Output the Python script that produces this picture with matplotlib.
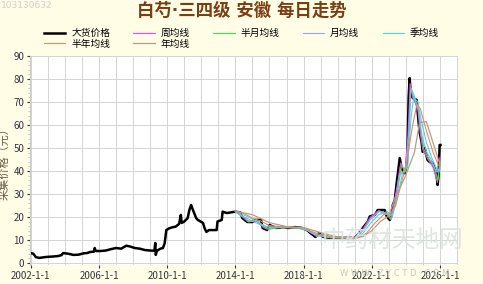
import matplotlib
matplotlib.use("Agg")
import matplotlib.pyplot as plt
import numpy as np

plt.rcParams['font.family'] = ['Noto Sans CJK SC', 'DejaVu Sans']

# 大货价格 (decimal year, price)
price_t = [2002.0, 2002.15, 2002.3, 2002.5, 2002.9, 2003.3, 2003.6, 2003.8, 2003.9, 2004.2,
           2004.5, 2004.8, 2005.1, 2005.3, 2005.5, 2005.7, 2005.75, 2005.8, 2006.1, 2006.4,
           2006.7, 2007.0, 2007.3, 2007.6, 2007.8, 2008.1, 2008.4, 2008.7, 2009.0, 2009.25,
           2009.3, 2009.33, 2009.4, 2009.6, 2009.75, 2009.85, 2009.95, 2010.1, 2010.3, 2010.5,
           2010.7, 2010.8, 2010.85, 2011.0, 2011.2, 2011.3, 2011.4, 2011.55, 2011.7, 2011.8,
           2012.1, 2012.2, 2012.3, 2012.45, 2012.9, 2012.95, 2013.2, 2013.25, 2013.5, 2014.0,
           2014.3, 2014.4, 2014.7, 2015.0, 2015.16, 2015.5, 2015.6, 2015.86, 2016.0, 2016.4,
           2016.8, 2017.1, 2017.5, 2017.9, 2018.2, 2018.4, 2018.7, 2018.9, 2019.13, 2019.54,
           2020.5, 2021.0, 2021.18, 2021.47, 2021.77, 2021.88, 2022.18, 2022.35, 2022.76, 2022.88,
           2023.05, 2023.17, 2023.23, 2023.35, 2023.46, 2023.64, 2023.75, 2023.85, 2023.93, 2024.05,
           2024.1, 2024.16, 2024.22, 2024.28, 2024.33, 2024.4, 2024.63, 2024.69, 2024.8, 2024.92,
           2024.98, 2025.1, 2025.27, 2025.39, 2025.57, 2025.68, 2025.8, 2025.86, 2025.92, 2025.98,
           2026.03]
price_v = [4.3, 4.0, 2.5, 2.2, 2.6, 2.8, 3.0, 3.4, 4.3, 4.0,
           3.5, 3.6, 4.2, 4.3, 4.8, 4.9, 6.5, 5.2, 5.2, 5.4,
           6.0, 6.5, 6.2, 7.5, 7.2, 6.5, 6.2, 5.6, 5.4, 5.3,
           8.7, 3.5, 5.3, 6.2, 6.5, 8.5, 14.3, 15.0, 15.5, 15.8,
           17.0, 20.9, 17.4, 18.0, 19.5, 23.0, 25.2, 22.3, 19.5, 18.7,
           17.4, 15.0, 13.5, 14.3, 14.3, 18.0, 18.7, 22.3, 21.7, 22.3,
           21.9, 19.6, 17.8, 17.8, 18.7, 18.7, 15.2, 14.3, 16.5, 15.2,
           15.6, 15.2, 15.6, 15.2, 14.3, 13.0, 11.3, 13.0, 11.4, 10.9,
           10.9, 10.9, 12.2, 15.2, 18.0, 20.2, 20.9, 23.0, 23.0, 20.2,
           18.7, 20.9, 25.2, 27.4, 34.8, 45.6, 41.3, 39.6, 39.0, 42.6,
           51.3, 71.7, 80.4, 74.3, 73.0, 71.7, 70.9, 65.7, 57.0, 52.6,
           48.3, 50.0, 44.8, 43.9, 43.5, 41.3, 38.3, 33.9, 38.3, 51.3,
           51.3]

# 周均线
week_t = [2014.0, 2014.45, 2014.75, 2015.2, 2015.65, 2015.9, 2016.5, 2017.2, 2017.9, 2018.45,
          2018.75, 2019.2, 2019.6, 2021.0, 2021.5, 2021.9, 2022.4, 2022.9, 2023.1, 2023.3,
          2023.5, 2023.7, 2023.95, 2024.12, 2024.25, 2024.4, 2024.7, 2024.85, 2025.0, 2025.3,
          2025.6, 2025.85, 2026.0]
week_v = [22.3, 19.8, 17.8, 18.6, 15.4, 14.6, 15.4, 15.3, 15.3, 13.2,
          11.5, 12.5, 10.9, 10.9, 15.0, 19.8, 22.8, 21.0, 18.9, 26.0,
          34.0, 43.5, 39.3, 55.0, 78.0, 72.0, 67.0, 56.0, 49.0, 45.0,
          41.5, 35.0, 46.0]

# 半月均线
half_month_t = [2014.0, 2014.5, 2014.8, 2015.25, 2015.7, 2016.0, 2016.6, 2017.3, 2018.0, 2018.5,
                2018.8, 2019.3, 2019.7, 2021.05, 2021.55, 2021.95, 2022.45, 2022.95, 2023.15, 2023.35,
                2023.55, 2023.75, 2024.0, 2024.15, 2024.28, 2024.45, 2024.72, 2024.88, 2025.05, 2025.35,
                2025.65, 2025.88, 2026.02]
half_month_v = [22.3, 19.9, 17.9, 18.5, 15.6, 14.8, 15.4, 15.3, 15.2, 13.3,
                11.7, 12.3, 10.9, 10.9, 14.7, 19.5, 22.6, 21.0, 19.1, 25.5,
                33.0, 42.5, 39.8, 52.0, 76.0, 72.0, 67.5, 57.0, 49.5, 45.3,
                41.8, 36.0, 44.0]

# 月均线
month_t = [2014.0, 2014.5, 2015.0, 2015.5, 2016.0, 2017.0, 2018.0, 2018.5, 2019.2, 2021.0,
           2021.5, 2021.9, 2022.4, 2022.9, 2023.2, 2023.4, 2023.6, 2024.0, 2024.2, 2024.3,
           2024.5, 2024.75, 2024.95, 2025.2, 2025.5, 2025.8, 2026.0]
month_v = [22.3, 20.0, 18.2, 16.5, 15.5, 15.5, 15.2, 12.8, 11.3, 10.9,
           14.3, 18.8, 22.3, 21.5, 20.3, 26.0, 38.0, 41.0, 60.0, 76.0,
           72.5, 66.0, 55.0, 48.5, 44.5, 39.5, 41.0]

# 季均线
quarter_t = [2014.0, 2014.6, 2015.2, 2015.8, 2016.5, 2017.5, 2018.3, 2018.8, 2019.5, 2021.0,
             2021.5, 2021.9, 2022.4, 2022.9, 2023.2, 2023.5, 2023.8, 2024.1, 2024.3, 2024.45,
             2024.7, 2024.9, 2025.2, 2025.5, 2025.8, 2026.0]
quarter_v = [22.3, 20.5, 18.3, 15.8, 15.6, 15.4, 14.0, 12.2, 11.0, 10.9,
             13.0, 17.0, 21.0, 22.3, 21.0, 28.0, 39.0, 42.0, 63.0, 72.0,
             70.0, 62.0, 52.5, 46.0, 41.0, 40.0]

# 半年均线
half_year_t = [2014.0, 2014.5, 2015.0, 2015.5, 2016.0, 2017.0, 2018.0, 2018.5, 2019.0, 2019.5,
               2020.5, 2021.2, 2021.7, 2022.2, 2022.7, 2023.1, 2023.4, 2023.6, 2024.0, 2024.4,
               2024.65, 2024.85, 2025.2, 2025.6, 2025.9, 2026.0]
half_year_v = [22.5, 21.5, 19.5, 18.2, 16.2, 15.6, 15.2, 13.6, 12.3, 11.3,
               10.9, 10.9, 13.0, 17.5, 21.0, 21.5, 25.0, 31.0, 42.0, 60.0,
               69.0, 67.0, 57.5, 48.0, 42.6, 42.0]

# 年均线
year_t = [2014.0, 2015.0, 2016.0, 2017.0, 2018.0, 2019.0, 2020.0, 2021.0, 2021.5, 2022.0,
          2022.5, 2023.0, 2023.35, 2023.93, 2024.5, 2024.8, 2025.2, 2025.86, 2026.0]
year_v = [22.5, 21.0, 17.5, 15.8, 15.4, 13.2, 11.3, 10.9, 11.5, 14.0,
          18.0, 20.5, 28.0, 37.0, 48.0, 61.0, 61.5, 46.0, 42.6]

tick_years = [2002, 2006, 2010, 2014, 2018, 2022, 2026]
tick_labels = ["2002-1-1", "2006-1-1", "2010-1-1", "2014-1-1", "2018-1-1", "2022-1-1", "2026-1-1"]

fig = plt.figure(figsize=(4.83, 2.84), dpi=100, facecolor="#FFFDE6")
ax = fig.add_axes([0.062, 0.066, 0.886, 0.737])
ax.set_facecolor("white")

l_price, = ax.plot(price_t, price_v, color="black", lw=1.8, label="大货价格")
l_week, = ax.plot(week_t, week_v, color="#FF3CFF", lw=0.8, label="周均线")
l_hm, = ax.plot(half_month_t, half_month_v, color="#33EE33", lw=0.8, label="半月均线")
l_month, = ax.plot(month_t, month_v, color="#8FA8FF", lw=0.8, label="月均线")
l_q, = ax.plot(quarter_t, quarter_v, color="#45D8E0", lw=0.8, label="季均线")
l_hy, = ax.plot(half_year_t, half_year_v, color="#F08462", lw=0.8, label="半年均线")
l_y, = ax.plot(year_t, year_v, color="#B39E86", lw=0.9, label="年均线")

ax.set_xlim(2001.95, 2027.05)
ax.set_ylim(-1, 90)
ax.set_yticks(np.arange(0, 91, 10))
ax.set_yticks(np.arange(0, 91, 2), minor=True)
ax.set_xticks(tick_years)
ax.set_xticklabels(tick_labels)
ax.set_xticks(np.arange(2002, 2028, 1), minor=True)
ax.grid(True, which="major", color="#D4D4D4", lw=0.7)
ax.grid(True, which="minor", axis="x", color="#D4D4D4", lw=0.7)
ax.tick_params(axis="both", which="major", labelsize=7, colors="#333344", length=2, pad=2)
ax.tick_params(axis="y", which="minor", length=1.5, color="#BBBBBB")
ax.tick_params(axis="x", which="minor", length=0)
for s in ax.spines.values():
    s.set_visible(False)
ax.spines["left"].set_visible(True)
ax.spines["left"].set_color("#CCCCCC")

ax.set_ylabel("采集价格（元）", fontsize=8, color="#6E5E48", labelpad=3)

fig.text(0.5, 0.962, "白芍·三四级 安徽 每日走势", ha="center", va="center",
         fontsize=12.5, fontweight="bold", color="#7A3E12",
         family=["DejaVu Sans", "Noto Sans CJK SC"])
fig.text(0.003, 0.995, "103130632", ha="left", va="top", fontsize=6.5, color="#CFCFCF",
         family="DejaVu Sans")

# watermark
fig.text(0.812, 0.155, "中药材天地网", ha="center", va="center", fontsize=17,
         color="#DCE3DC", alpha=0.9)
fig.text(0.818, 0.038, "W W W . Z Y C T D . C O M", ha="center", va="center", fontsize=6,
         color="#C8C8C8", family="DejaVu Sans")

handles = [l_price, l_hy, l_week, l_y, l_hm, l_month, l_q]
fig.legend(handles=handles, labels=[h.get_label() for h in handles], ncol=5,
           loc="center", bbox_to_anchor=(0.5, 0.865), frameon=False, fontsize=7,
           handlelength=2.2, handletextpad=0.6, columnspacing=2.4,
           labelspacing=0.05, borderaxespad=0)

fig.savefig("out.png", dpi=100, facecolor=fig.get_facecolor())
